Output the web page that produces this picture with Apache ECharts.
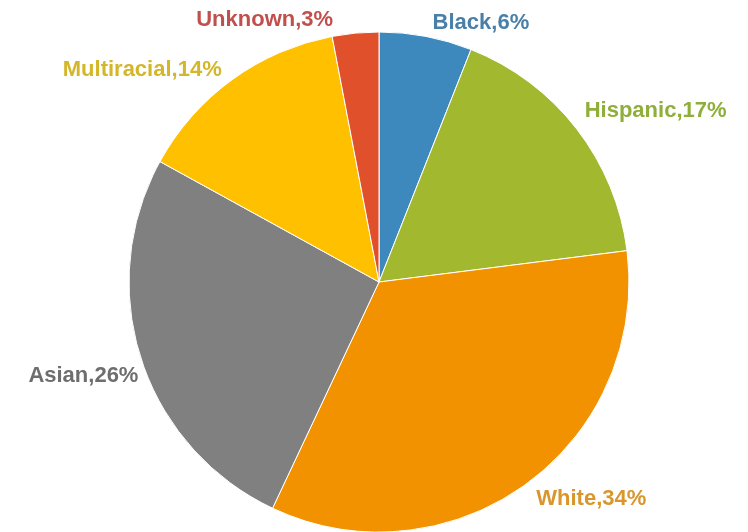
<!DOCTYPE html>
<html>
<head>
<meta charset="utf-8">
<script src="https://cdn.jsdelivr.net/npm/echarts@6/dist/echarts.min.js"></script>
<style>
  html, body { margin: 0; padding: 0; background: #fff; }
  #pieChart { width: 748px; height: 532px; }
</style>
</head>
<body>
<div id="pieChart"></div>
<script>
const categories = ['Black', 'Hispanic', 'White', 'Asian', 'Multiracial', 'Unknown'];
const percents = [6, 17, 34, 26, 14, 3];
const sliceColors = ['#3d89be', '#a2b92f', '#f39200', '#808080', '#ffc000', '#e0502a'];
const labelColors = ['#4a80a8', '#8fae3a', '#d9962c', '#6e6e6e', '#d4b62a', '#c0504d'];

// label nudges (dx, dy) so they sit like the original
const labelNudge = [[1, -10], [0, -15], [3, 11], [6, 15], [-3, -7], [-17, -9]];

const chartOption = {
    animation: false,
    series: [
        {
            type: 'pie',
            center: [379, 282],
            radius: 250,
            startAngle: 90,
            clockwise: true,
            data: categories.map((name, i) => ({
                name: name,
                value: percents[i],
                itemStyle: { color: sliceColors[i] },
                label: { color: labelColors[i] }
            })),
            itemStyle: {
                borderColor: '#ffffff',
                borderWidth: 1
            },
            label: {
                show: true,
                position: 'outside',
                formatter: '{b},{c}%',
                fontSize: 22,
                fontWeight: 'bold',
                fontFamily: 'Liberation Sans'
            },
            labelLine: { show: false, length: 4, length2: 0 },
            labelLayout: (params) => ({
                dx: labelNudge[params.dataIndex][0],
                dy: labelNudge[params.dataIndex][1]
            })
        }
    ]
};

let myChart_pieChart = echarts.init(document.getElementById('pieChart'));
myChart_pieChart.setOption(chartOption);
</script>
</body>
</html>
